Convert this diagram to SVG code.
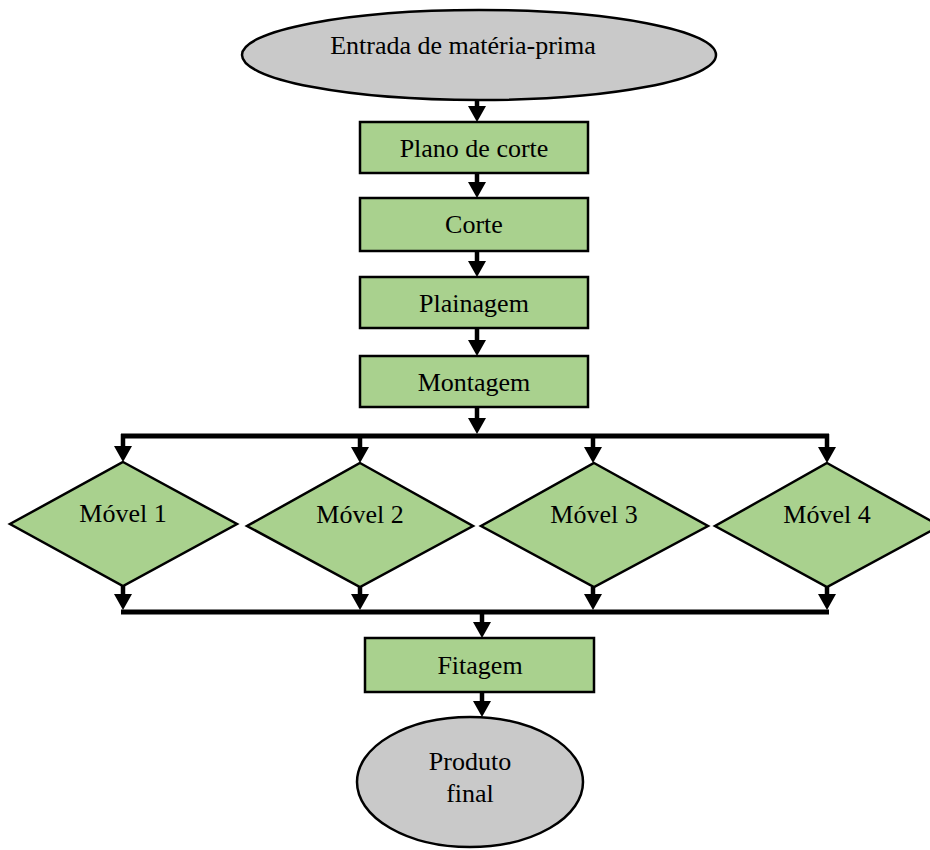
<svg xmlns="http://www.w3.org/2000/svg" width="930" height="850" viewBox="0 0 930 850">
<style>
.t{font-family:"Liberation Serif","Times New Roman",serif;font-size:26px;fill:#000;text-anchor:middle}
.box{fill:#A9D18E;stroke:#000;stroke-width:2.5}
.term{fill:#C9C9C9;stroke:#000;stroke-width:2.5}
.dia{fill:#A9D18E;stroke:#000;stroke-width:2.5}
.c{stroke:#000;stroke-width:4.5;fill:none}
.bus{stroke:#000;stroke-width:5;fill:none}
</style>
<defs>
<marker id="ah" viewBox="0 0 16 18" refX="0" refY="9" markerWidth="16" markerHeight="18" markerUnits="userSpaceOnUse" orient="auto">
<path d="M0,0 L16,9 L0,18 z" fill="#000"/>
</marker>
</defs>
<rect width="930" height="850" fill="#fff"/>
<g id="connectors">
<line class="c" x1="477" y1="100" x2="477" y2="106" marker-end="url(#ah)"/>
<line class="c" x1="477" y1="173" x2="477" y2="182" marker-end="url(#ah)"/>
<line class="c" x1="477" y1="251" x2="477" y2="261" marker-end="url(#ah)"/>
<line class="c" x1="477" y1="328" x2="477" y2="340" marker-end="url(#ah)"/>
<line class="c" x1="477" y1="407" x2="477" y2="418" marker-end="url(#ah)"/>
<path class="bus" d="M121,436 H829"/>
<line class="c" x1="123" y1="434" x2="123" y2="446" marker-end="url(#ah)"/>
<line class="c" x1="360" y1="436" x2="360" y2="447" marker-end="url(#ah)"/>
<line class="c" x1="593" y1="436" x2="593" y2="447" marker-end="url(#ah)"/>
<line class="c" x1="827" y1="434" x2="827" y2="447" marker-end="url(#ah)"/>
<line class="c" x1="123" y1="586" x2="123" y2="594" marker-end="url(#ah)"/>
<line class="c" x1="360" y1="587" x2="360" y2="594" marker-end="url(#ah)"/>
<line class="c" x1="593" y1="587" x2="593" y2="594" marker-end="url(#ah)"/>
<line class="c" x1="827" y1="587" x2="827" y2="594" marker-end="url(#ah)"/>
<path class="bus" d="M121,612 H829"/>
<line class="c" x1="482" y1="612" x2="482" y2="622" marker-end="url(#ah)"/>
<line class="c" x1="482" y1="692" x2="482" y2="701" marker-end="url(#ah)"/>
</g>
<g id="entrada">
<ellipse class="term" cx="479" cy="55" rx="237" ry="45"/>
<text class="t" x="463" y="54">Entrada de matéria-prima</text>
</g>
<g id="plano">
<rect class="box" x="360" y="122" width="228" height="51"/>
<text class="t" x="474" y="157">Plano de corte</text>
</g>
<g id="corte">
<rect class="box" x="360" y="198" width="228" height="53"/>
<text class="t" x="474" y="233">Corte</text>
</g>
<g id="plainagem">
<rect class="box" x="360" y="277" width="228" height="51"/>
<text class="t" x="474" y="312">Plainagem</text>
</g>
<g id="montagem">
<rect class="box" x="360" y="356" width="228" height="51"/>
<text class="t" x="474" y="391">Montagem</text>
</g>
<g id="movel1">
<polygon class="dia" points="123,462 237,524 123,586 10,524"/>
<text class="t" x="123" y="522">Móvel 1</text>
</g>
<g id="movel2">
<polygon class="dia" points="360,463 473,526 360,587 247,526"/>
<text class="t" x="360" y="523">Móvel 2</text>
</g>
<g id="movel3">
<polygon class="dia" points="594,463 708,526 594,587 481,526"/>
<text class="t" x="594" y="523">Móvel 3</text>
</g>
<g id="movel4">
<polygon class="dia" points="827,463 940,526 827,587 715,526"/>
<text class="t" x="827" y="523">Móvel 4</text>
</g>
<g id="fitagem">
<rect class="box" x="365" y="638" width="229" height="54"/>
<text class="t" x="480" y="674">Fitagem</text>
</g>
<g id="produto">
<ellipse class="term" cx="470" cy="782" rx="113" ry="65"/>
<text class="t" x="470" y="770">Produto</text>
<text class="t" x="470" y="802">final</text>
</g>
</svg>
